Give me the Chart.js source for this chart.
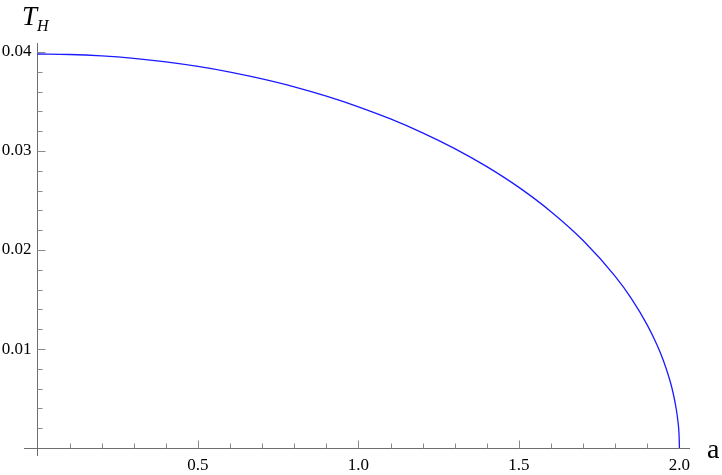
<!DOCTYPE html>
<html>
<head>
<meta charset="utf-8">
<script src="https://cdn.jsdelivr.net/npm/chart.js@4/dist/chart.umd.min.js"></script>
<style>
  html, body { margin: 0; padding: 0; background: #fff; }
  #wrap { width: 722px; height: 475px; position: relative; }
</style>
</head>
<body>
<div id="wrap"><canvas id="chart"></canvas></div>
<script>
// values
var aValues = [0, 0.1, 0.2, 0.3, 0.4, 0.5, 0.6, 0.7, 0.8, 0.9, 1.0, 1.1, 1.2, 1.3, 1.4, 1.5,
    1.6, 1.7, 1.8, 1.85, 1.9, 1.93, 1.95, 1.97, 1.98, 1.99, 1.995, 1.999, 2.0];
var tValues = [0.03979, 0.03974, 0.03959, 0.03934, 0.03899, 0.03853, 0.03796, 0.03727, 0.03647,
    0.03553, 0.03446, 0.03323, 0.03183, 0.03024, 0.02842, 0.02632, 0.02387, 0.02096, 0.01734,
    0.01512, 0.01242, 0.01043, 0.00884, 0.00687, 0.00561, 0.00397, 0.00281, 0.00126, 0];

var xMajorTicks = [0.5, 1.0, 1.5, 2.0];
var xTickLabels = ['0.5', '1.0', '1.5', '2.0'];
var xMinorTicks = [0.1, 0.2, 0.3, 0.4, 0.6, 0.7, 0.8, 0.9, 1.1, 1.2, 1.3, 1.4, 1.6, 1.7, 1.8, 1.9];
var yMajorTicks = [0.01, 0.02, 0.03, 0.04];
var yTickLabels = ['0.01', '0.02', '0.03', '0.04'];
var yMinorTicks = [0.002, 0.004, 0.006, 0.008, 0.012, 0.014, 0.016, 0.018, 0.022, 0.024,
    0.026, 0.028, 0.032, 0.034, 0.036, 0.038];

var points = aValues.map(function (a, i) { return { x: a, y: tValues[i] }; });

var serif = '"Liberation Serif", "Times New Roman", Times, "DejaVu Serif", serif';

// Mathematica style axes crossing at the origin, ticks pointing inward
var originAxes = {
    id: 'originAxes',
    beforeDatasetsDraw: function (chart) {
        var ctx = chart.ctx;
        var xs = chart.scales.x;
        var ys = chart.scales.y;
        var area = chart.chartArea;
        var x0 = Math.round(xs.getPixelForValue(0)) + 0.5;
        var y0 = Math.round(ys.getPixelForValue(0)) + 0.5;

        ctx.save();
        ctx.strokeStyle = '#6e6e6e';
        ctx.lineWidth = 1;
        ctx.beginPath();
        ctx.moveTo(area.left, y0);
        ctx.lineTo(area.right, y0);
        ctx.moveTo(x0, area.top);
        ctx.lineTo(x0, area.bottom);
        ctx.stroke();

        ctx.strokeStyle = '#8a8a8a';
        ctx.beginPath();
        xMinorTicks.forEach(function (v) {
            var px = Math.round(xs.getPixelForValue(v)) + 0.5;
            ctx.moveTo(px, y0);
            ctx.lineTo(px, y0 - 5);
        });
        xMajorTicks.forEach(function (v) {
            var px = Math.round(xs.getPixelForValue(v)) + 0.5;
            ctx.moveTo(px, y0);
            ctx.lineTo(px, y0 - 8);
        });
        yMinorTicks.forEach(function (v) {
            var py = Math.round(ys.getPixelForValue(v)) + 0.5;
            ctx.moveTo(x0, py);
            ctx.lineTo(x0 + 5, py);
        });
        yMajorTicks.forEach(function (v) {
            var py = Math.round(ys.getPixelForValue(v)) + 0.5;
            ctx.moveTo(x0, py);
            ctx.lineTo(x0 + 8, py);
        });
        ctx.stroke();

        ctx.fillStyle = '#000';
        ctx.font = '17px ' + serif;
        ctx.textAlign = 'center';
        ctx.textBaseline = 'middle';
        xMajorTicks.forEach(function (v, i) {
            ctx.fillText(xTickLabels[i], xs.getPixelForValue(v), y0 + 17);
        });
        ctx.textAlign = 'right';
        yMajorTicks.forEach(function (v, i) {
            ctx.fillText(yTickLabels[i], x0 - 6, ys.getPixelForValue(v));
        });

        // axis titles
        ctx.textAlign = 'left';
        ctx.textBaseline = 'alphabetic';
        ctx.font = '28px ' + serif;
        ctx.fillText('a', 707, 458);
        ctx.font = 'italic 27px ' + serif;
        ctx.fillText('T', 22, 25);
        ctx.font = 'italic 16px ' + serif;
        ctx.fillText('H', 37, 31);
        ctx.restore();
    }
};

new Chart(document.getElementById('chart').getContext('2d'), {
    type: 'line',
    data: {
        datasets: [{
            label: 'T_H',
            data: points,
            borderColor: '#1a1aff',
            borderWidth: 1.3,
            pointRadius: 0,
            fill: false,
            cubicInterpolationMode: 'monotone'
        }]
    },
    options: {
        responsive: true,
        maintainAspectRatio: false,
        animation: false,
        layout: {
            padding: { left: 24, top: 43, right: 32, bottom: 19 }
        },
        plugins: {
            legend: { display: false },
            title: { display: false },
            tooltip: { enabled: false }
        },
        scales: {
            x: { type: 'linear', min: -0.042, max: 2.033, display: false },
            y: { type: 'linear', min: -0.0008, max: 0.0409, display: false }
        }
    },
    plugins: [originAxes]
});
</script>
</body>
</html>
